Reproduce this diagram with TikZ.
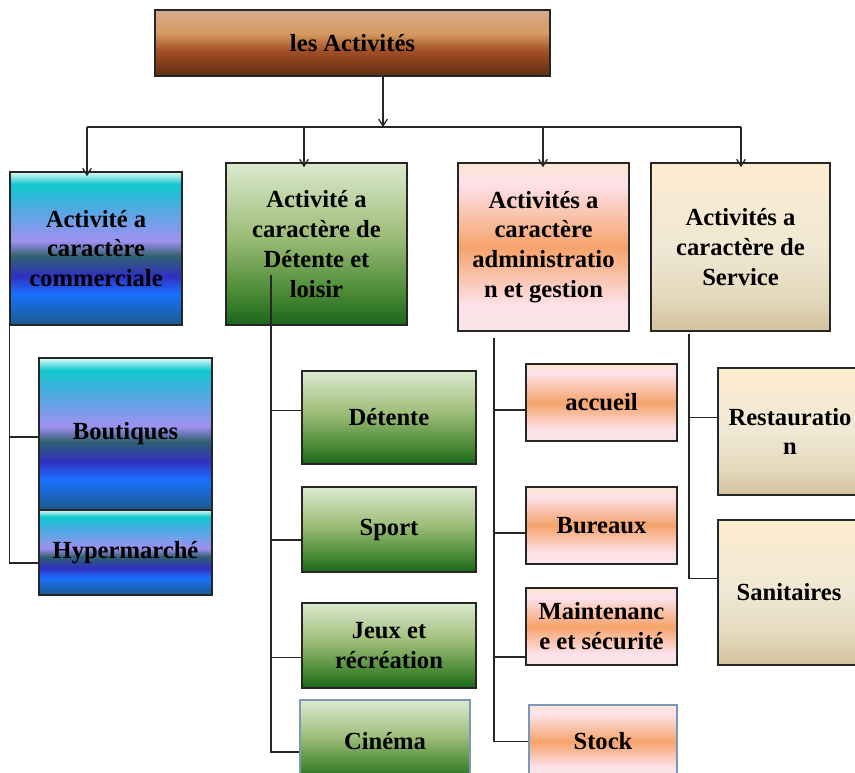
\documentclass[tikz,border=0pt]{standalone}
\usepackage{fontspec}
\setmainfont{Liberation Serif}
\usetikzlibrary{arrows.meta,positioning}

% colours of the boxes
\definecolor{brT}{HTML}{D6AB90}\definecolor{brM}{HTML}{D59A62}
\definecolor{brS}{HTML}{A24E25}\definecolor{brD}{HTML}{5E2D12}
\definecolor{cyT}{HTML}{E0FAFA}\definecolor{cyC}{HTML}{10C8CC}
\definecolor{cyB}{HTML}{40B0E0}\definecolor{cyL}{HTML}{A090F0}
\definecolor{cyS}{HTML}{306070}\definecolor{cyE}{HTML}{3030C0}
\definecolor{cyF}{HTML}{1A70FF}\definecolor{cyD}{HTML}{1A5A8A}
\definecolor{grT}{HTML}{DBE9CF}\definecolor{grM}{HTML}{9DBD78}
\definecolor{grS}{HTML}{4A8A35}\definecolor{grD}{HTML}{1A661A}
\definecolor{peT}{HTML}{FAE6D2}\definecolor{peP}{HTML}{FDE2EA}
\definecolor{peO}{HTML}{F6A36C}\definecolor{peB}{HTML}{F8E6E4}
\definecolor{crT}{HTML}{FDECD0}\definecolor{crM}{HTML}{F0E8D4}
\definecolor{crS}{HTML}{E4D9BD}\definecolor{crD}{HTML}{D2C29C}
\definecolor{bordblue}{HTML}{7A98B8}

\pgfdeclareverticalshading{brownsh}{100bp}{color(0bp)=(brD); color(25bp)=(brD); color(44bp)=(brS); color(57.5bp)=(brM); color(75bp)=(brT); color(100bp)=(brT)}
\pgfdeclareverticalshading{cyansh}{100bp}{color(0bp)=(cyD); color(25bp)=(cyD); color(35bp)=(cyF); color(41bp)=(cyE); color(47.5bp)=(cyS); color(52.5bp)=(cyL); color(65bp)=(cyB); color(71bp)=(cyC); color(75bp)=(cyT); color(100bp)=(cyT)}
\pgfdeclareverticalshading{greensh}{100bp}{color(0bp)=(grD); color(25bp)=(grD); color(35bp)=(grS); color(52.5bp)=(grM); color(75bp)=(grT); color(100bp)=(grT)}
\pgfdeclareverticalshading{peachsh}{100bp}{color(0bp)=(peB); color(25bp)=(peB); color(32.5bp)=(peP); color(50bp)=(peO); color(69bp)=(peP); color(75bp)=(peT); color(100bp)=(peT)}
\pgfdeclareverticalshading{creamsh}{100bp}{color(0bp)=(crD); color(25bp)=(crD); color(35bp)=(crS); color(50bp)=(crM); color(75bp)=(crT); color(100bp)=(crT)}

\tikzset{
  box/.style={rectangle, draw=black!85, line width=0.9pt, inner sep=0pt, align=center,
    font=\bfseries\fontsize{21}{25.5}\selectfont},
  link/.style={line width=1.1pt, black!85},
  arr/.style={link, -{Straight Barb[length=2mm,width=2.6mm]}}
}

\begin{document}
\begin{tikzpicture}[x=0.03cm, y=-0.03cm]
    \useasboundingbox (0,0) rectangle (855,773);
    \fill[white] (0,0) rectangle (855,773);
    \clip (0,0) rectangle (855,773);

    \node (top) [box, shading=brownsh, minimum width=395*0.03cm, minimum height=66*0.03cm] at (352.5,43) {les Activités};

    \node (com) [box, shading=cyansh, minimum width=172*0.03cm, minimum height=153*0.03cm] at (96,248.5) {Activité a\\caractère\\commerciale};
    \node (loisir) [box, shading=greensh, minimum width=181*0.03cm, minimum height=162*0.03cm] at (316.5,244) {Activité a\\caractère de\\Détente et\\loisir};
    \node (adm) [box, shading=peachsh, minimum width=171*0.03cm, minimum height=168*0.03cm] at (543.5,247) {Activités a\\caractère\\administratio\\n et gestion};
    \node (serv) [box, shading=creamsh, minimum width=179*0.03cm, minimum height=168*0.03cm] at (740.5,247) {Activités a\\caractère de\\Service};

    \node (bout) [box, shading=cyansh, minimum width=173*0.03cm, minimum height=152*0.03cm] at (125.5,434) {Boutiques};
    \node (hyp) [box, shading=cyansh, minimum width=173*0.03cm, minimum height=85*0.03cm] at (125.5,552.5) {Hypermarché};

    \node (dete) [box, shading=greensh, minimum width=174*0.03cm, minimum height=93*0.03cm] at (389,417.5) {Détente};
    \node (sport) [box, shading=greensh, minimum width=174*0.03cm, minimum height=85*0.03cm] at (389,529.5) {Sport};
    \node (jeux) [box, shading=greensh, minimum width=174*0.03cm, minimum height=85*0.03cm] at (389,645.5) {Jeux et\\récréation};
    \node (cine) [box, shading=greensh, draw=bordblue, minimum width=170*0.03cm, minimum height=82*0.03cm] at (385,741) {Cinéma};

    \node (acc) [box, shading=peachsh, minimum width=151*0.03cm, minimum height=77*0.03cm] at (601.5,402.5) {accueil};
    \node (bur) [box, shading=peachsh, minimum width=151*0.03cm, minimum height=77*0.03cm] at (601.5,525.5) {Bureaux};
    \node (maint) [box, shading=peachsh, minimum width=151*0.03cm, minimum height=77*0.03cm] at (601.5,626.5) {Maintenanc\\e et sécurité};
    \node (stock) [box, shading=peachsh, draw=bordblue, minimum width=148*0.03cm, minimum height=73*0.03cm] at (603,741.5) {Stock};

    \node (resto) [box, shading=creamsh, minimum width=144*0.03cm, minimum height=127*0.03cm] at (790,431.5) {Restauratio\\n};
    \node (sani) [box, shading=creamsh, minimum width=142*0.03cm, minimum height=145*0.03cm] at (789,592.5) {Sanitaires};

    % bus under the title
    \coordinate (bus) at (383,127);
    \coordinate (b1) at (87,127);
    \coordinate (b2) at (304,127);
    \coordinate (b3) at (543,127);
    \coordinate (b4) at (741,127);
    \draw[arr] (top.south -| bus) -- (bus);
    \draw[link] (b1) -- (b4);
    \draw[arr, shorten >=-4pt] (b1) -- (b1 |- com.north);
    \draw[arr, shorten >=-4pt] (b2) -- (b2 |- loisir.north);
    \draw[arr, shorten >=-4pt] (b3) -- (b3 |- adm.north);
    \draw[arr, shorten >=-4pt] (b4) -- (b4 |- serv.north);

    % commercial
    \draw[link] (com.south west) |- ([yshift=-2.5pt]bout.west);
    \draw[link] (com.south west) |- ([yshift=-9pt]hyp.west);

    % detente et loisir
    \coordinate (sp2) at (271,275);
    \draw[link] (sp2) |- ([yshift=6pt]dete.west);
    \draw[link] (sp2) |- ([yshift=-9pt]sport.west);
    \draw[link] (sp2) |- ([yshift=-10.5pt]jeux.west);
    \draw[link] (sp2) |- ([yshift=-9.5pt]cine.west);

    % administration
    \coordinate (sp3) at (494,338);
    \draw[link] (sp3) |- ([yshift=-6.5pt]acc.west);
    \draw[link] (sp3) |- ([yshift=-6.5pt]bur.west);
    \draw[link] (sp3) |- ([yshift=-26pt]maint.west);
    \draw[link] (sp3) |- (stock.west);

    % service
    \coordinate (sp4) at (689,334);
    \draw[link] (sp4) |- ([yshift=12pt]resto.west);
    \draw[link] (sp4) |- ([yshift=12pt]sani.west);
\end{tikzpicture}
\end{document}
